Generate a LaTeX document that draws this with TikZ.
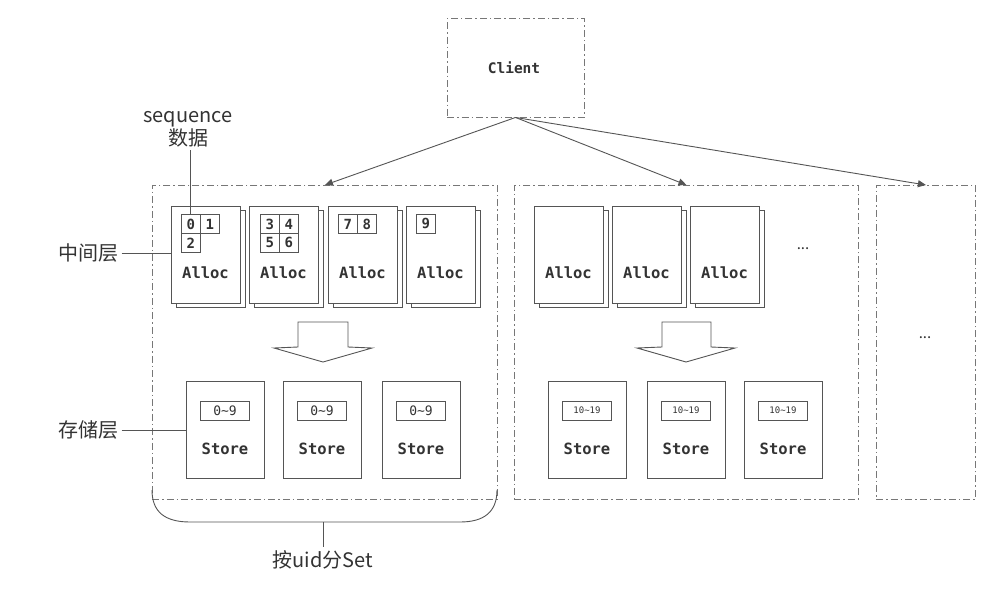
\documentclass[tikz,border=0pt]{standalone}
\usepackage{fontspec}
\newfontfamily\cjk{Noto Sans CJK SC}
\newfontfamily\mono{DejaVu Sans Mono}
\usetikzlibrary{arrows.meta,calc}
\definecolor{ln}{HTML}{555555}
\definecolor{tx}{HTML}{333333}
\definecolor{dsh}{HTML}{777777}
\tikzset{
  dd/.style={draw=dsh, line width=0.9pt, dash pattern=on 7pt off 3pt on 1.5pt off 3pt},
  allocbox/.style={draw=ln, fill=white, line width=0.9pt, minimum width=69pt, minimum height=97pt, inner sep=0pt, anchor=north west},
  shadowbox/.style={draw=ln, fill=white, line width=0.9pt, minimum width=69pt, minimum height=97pt, inner sep=0pt, anchor=north west},
  cellbox/.style={draw=ln, line width=0.8pt, minimum width=19pt, minimum height=19pt, inner sep=0pt, anchor=north west, font=\mono\bfseries\fontsize{14}{14}\selectfont, text=tx},
  storebox/.style={draw=ln, line width=0.9pt, minimum width=78pt, minimum height=97pt, inner sep=0pt, anchor=north west},
  rangebox/.style={draw=ln, line width=0.8pt, minimum width=49pt, minimum height=19pt, inner sep=0pt, text=tx},
  monolbl/.style={font=\mono\bfseries\fontsize{15.5}{15.5}\selectfont, text=tx},
  cjklbl/.style={font=\cjk\fontsize{20}{23}\selectfont, text=tx, align=center},
  dotlbl/.style={font=\cjk\fontsize{15}{15}\selectfont, text=tx},
  conn/.style={draw=ln, line width=0.9pt},
  arr/.style={draw=ln, line width=0.9pt, -{Triangle[length=8pt,width=7pt]}},
  blockarrow/.style={draw=ln, fill=white, line width=0.9pt, line join=miter},
}
\begin{document}
\begin{tikzpicture}[x=1pt,y=-1pt]
\useasboundingbox (0,0) rectangle (1005,592);
\fill[white] (0,0) rectangle (1005,592);

% client
\node[dd, minimum width=137pt, minimum height=99pt, inner sep=0pt] (client) at (515.5,67.5) {};
\node[font=\mono\bfseries\fontsize{14.5}{14.5}\selectfont, text=tx] (clienttxt) at (514,68) {Client};

% set boxes
\node[dd, minimum width=345pt, minimum height=314pt, inner sep=0pt, anchor=north west] (set1) at (152,185) {};
\node[dd, minimum width=344pt, minimum height=314pt, inner sep=0pt, anchor=north west] (set2) at (514,185) {};
\node[dd, minimum width=99pt, minimum height=314pt, inner sep=0pt, anchor=north west] (set3) at (876,185) {};

\draw[arr] (client.south) -- (set1.north);
\draw[arr] (client.south) -- (set2.north);
\draw[arr] (client.south) -- (set3.north);

% alloc boxes
\foreach \n/\x in {a1/171,a2/249,a3/328,a4/406,b1/534,b2/612,b3/690}{
  \node[shadowbox] (\n s) at (\x+5,210) {};
  \node[allocbox] (\n) at (\x,206) {};
  \node[monolbl] (\n t) at (\x+34.5,273) {Alloc};
}
% cells
\node[cellbox] (c0) at (181,214) {0};
\node[cellbox] (c1) at (200,214) {1};
\node[cellbox] (c2) at (181,233) {2};
\node[cellbox] (c3) at (260,214) {3};
\node[cellbox] (c4) at (279,214) {4};
\node[cellbox] (c5) at (260,233) {5};
\node[cellbox] (c6) at (279,233) {6};
\node[cellbox] (c7) at (338,214) {7};
\node[cellbox] (c8) at (357,214) {8};
\node[cellbox] (c9) at (416,214) {9};

\node[dotlbl] (dots2) at (803,249) {...};
\node[dotlbl] (dots3) at (925,338) {...};

% block arrows
\draw[blockarrow] (298,322) -- (348,322) -- (348,347) -- (372,348) -- (323,362) -- (274,348) -- (298,347) -- cycle;
\draw[blockarrow] (662,322) -- (711,322) -- (711,347) -- (735,348) -- (686,362) -- (637,348) -- (662,347) -- cycle;

% store boxes
\foreach \n/\x/\r/\fs in {s1/186/0\string~9/13,s2/283/0\string~9/13,s3/382/0\string~9/13,t1/548/10\string~19/9,t2/647/10\string~19/9,t3/744/10\string~19/9}{
  \node[storebox] (\n) at (\x,381) {};
  \node[rangebox, font=\mono\fontsize{\fs}{\fs}\selectfont] (\n r) at (\x+39,410.5) {\r};
  \node[monolbl] (\n t) at (\x+39,449) {Store};
}

% labels
\node[cjklbl] (seq) at (188,129) {sequence\\数据};
\draw[conn] (seq.south -| c0.north) -- (c0.north);

\node[cjklbl] (mid) at (88,253) {中间层};
\draw[conn] (mid.east) -- (mid.east -| a1.west);

\node[cjklbl] (sto) at (88,430) {存储层};
\draw[conn] (sto.east) -- (sto.east -| s1.west);

% brace
\coordinate (bl) at (152,490);
\coordinate (br) at (497,490);
\coordinate (bm) at (323,522);
\draw[conn] (bl) .. controls (152,512) and (165,522) .. (190,522) -- (460,522) .. controls (484,522) and (497,512) .. (br);
\node[cjklbl] (setlbl) at (323,560) {按uid分Set};
\draw[conn] (bm) -- (setlbl.north);
\end{tikzpicture}
\end{document}
